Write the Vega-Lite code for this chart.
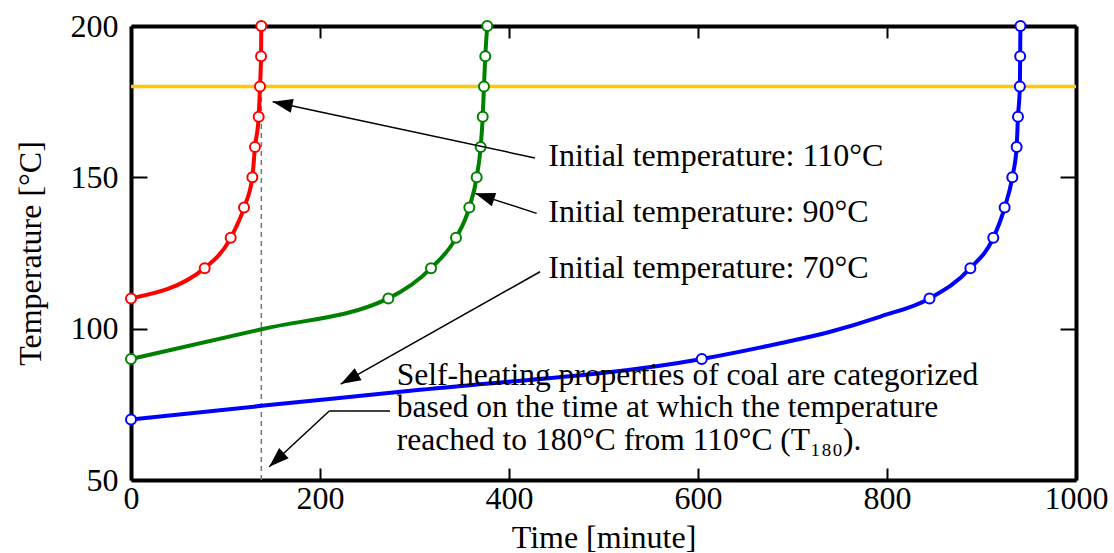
{
  "$schema": "https://vega.github.io/schema/vega-lite/v6.json",
  "width": 945,
  "height": 454,
  "autosize": {"type": "none"},
  "padding": {"left": 131, "top": 26, "right": 38, "bottom": 73},
  "background": "white",
  "config": {
    "view": {"stroke": null},
    "font": "Liberation Serif",
    "axis": {
      "labelFont": "Liberation Serif", "labelFontSize": 32, "labelColor": "black",
      "titleFont": "Liberation Serif", "titleFontSize": 32, "titleFontWeight": "normal", "titleColor": "black",
      "domain": true, "domainColor": "black", "domainWidth": 4, "grid": false, "tickColor": "black", "tickWidth": 2, "format": "d", "labelFlush": false
    }
  },
  "datasets": {
    "curves": [
      {"series": "110", "t": 0, "T": 110, "m": true},
      {"series": "110", "t": 78, "T": 120, "m": true},
      {"series": "110", "t": 105.5, "T": 130, "m": true},
      {"series": "110", "t": 119.6, "T": 140, "m": true},
      {"series": "110", "t": 128.4, "T": 150, "m": true},
      {"series": "110", "t": 131.2, "T": 160, "m": true},
      {"series": "110", "t": 135.1, "T": 170, "m": true},
      {"series": "110", "t": 136.5, "T": 180, "m": true},
      {"series": "110", "t": 137.6, "T": 190, "m": true},
      {"series": "110", "t": 137.9, "T": 200, "m": true},
      {"series": "90", "t": 0, "T": 90, "m": true},
      {"series": "90", "t": 138, "T": 99.8, "m": false},
      {"series": "90", "t": 272.3, "T": 110, "m": true},
      {"series": "90", "t": 317.5, "T": 120, "m": true},
      {"series": "90", "t": 343.9, "T": 130, "m": true},
      {"series": "90", "t": 358, "T": 140, "m": true},
      {"series": "90", "t": 365.8, "T": 150, "m": true},
      {"series": "90", "t": 370, "T": 160, "m": true},
      {"series": "90", "t": 372.2, "T": 170, "m": true},
      {"series": "90", "t": 373.5, "T": 180, "m": true},
      {"series": "90", "t": 374.9, "T": 190, "m": true},
      {"series": "90", "t": 377, "T": 200, "m": true},
      {"series": "70", "t": 0, "T": 70, "m": true},
      {"series": "70", "t": 138, "T": 74.5, "m": false},
      {"series": "70", "t": 306, "T": 79.8, "m": false},
      {"series": "70", "t": 604, "T": 90, "m": true},
      {"series": "70", "t": 687, "T": 95.2, "m": false},
      {"series": "70", "t": 740, "T": 99, "m": false},
      {"series": "70", "t": 793, "T": 104, "m": false},
      {"series": "70", "t": 845, "T": 110, "m": true},
      {"series": "70", "t": 888.2, "T": 120, "m": true},
      {"series": "70", "t": 912.5, "T": 130, "m": true},
      {"series": "70", "t": 924.5, "T": 140, "m": true},
      {"series": "70", "t": 932.6, "T": 150, "m": true},
      {"series": "70", "t": 937.2, "T": 160, "m": true},
      {"series": "70", "t": 938.6, "T": 170, "m": true},
      {"series": "70", "t": 940.6, "T": 180, "m": true},
      {"series": "70", "t": 940.9, "T": 190, "m": true},
      {"series": "70", "t": 941.2, "T": 200, "m": true}
    ],
    "shafts": [
      {"id": "a1", "t": 427.5, "T": 156.4, "t2": 149.9, "T2": 175.0},
      {"id": "a2", "t": 429.3, "T": 138.1, "t2": 364.0, "T2": 144.7},
      {"id": "a3", "t": 432.8, "T": 118.8, "t2": 221.9, "T2": 81.7},
      {"id": "a4a", "t": 274.1, "T": 72.8, "t2": 209.8, "T2": 72.8},
      {"id": "a4b", "t": 209.8, "T": 72.8, "t2": 146.3, "T2": 54.4}
    ],
    "heads": [
      {"id": "h1", "t": 149.9, "T": 175.0},
      {"id": "h2", "t": 364.0, "T": 144.7},
      {"id": "h3", "t": 221.9, "T": 81.7},
      {"id": "h4", "t": 146.3, "T": 54.4}
    ],
    "labels": [
      {"label": "Initial temperature: 110°C", "t": 441.6, "T": 153.7},
      {"label": "Initial temperature: 90°C", "t": 441.6, "T": 135.2},
      {"label": "Initial temperature: 70°C", "t": 441.6, "T": 116.7}
    ],
    "note": [
      {"label": ["Self-heating properties of coal are categorized", "based on the time at which the temperature", "reached to 180°C from 110°C (T₁₈₀)."], "t": 281.2, "T": 81.4}
    ],
    "threshold": [{"T": 180}],
    "marker": [{"t": 137.9, "T": 50, "T2": 180}]
  },
  "resolve": {"axis": {"x": "independent", "y": "independent"}},
  "layer": [
    {
      "data": {"name": "threshold"},
      "mark": {"type": "rule", "color": "#FFC800", "strokeWidth": 3.5},
      "encoding": {
        "y": {"field": "T", "type": "quantitative", "scale": {"domain": [50, 200], "nice": false},
          "axis": {"orient": "right", "labels": false, "title": null, "values": [50, 100, 150, 200], "tickSize": -16}}
      }
    },
    {
      "data": {"name": "marker"},
      "mark": {"type": "rule", "color": "#777777", "strokeWidth": 1.5, "strokeDash": [5, 4]},
      "encoding": {
        "x": {"field": "t", "type": "quantitative", "scale": {"domain": [0, 1000], "nice": false},
          "axis": {"orient": "top", "labels": false, "title": null, "values": [0, 200, 400, 600, 800, 1000], "tickSize": -12}},
        "y": {"field": "T", "type": "quantitative", "axis": null},
        "y2": {"field": "T2"}
      }
    },
    {
      "data": {"name": "curves"},
      "mark": {"type": "line", "strokeWidth": 4, "interpolate": "monotone"},
      "encoding": {
        "x": {"field": "t", "type": "quantitative", "title": "Time [minute]",
          "axis": {"orient": "bottom", "values": [0, 200, 400, 600, 800, 1000], "tickSize": -12, "labelPadding": 15, "titlePadding": 8}},
        "y": {"field": "T", "type": "quantitative", "title": "Temperature [°C]",
          "axis": {"orient": "left", "values": [50, 100, 150, 200], "tickSize": -16, "labelPadding": 29, "titlePadding": 23}},
        "color": {"field": "series", "type": "nominal", "scale": {"domain": ["110", "90", "70"], "range": ["#FF0000", "#008000", "#0000FF"]}, "legend": null},
        "detail": {"field": "series"}
      }
    },
    {
      "data": {"name": "curves"},
      "transform": [{"filter": "datum.m"}],
      "mark": {"type": "point", "shape": "circle", "filled": true, "fill": "white", "size": 100, "strokeWidth": 2, "opacity": 1},
      "encoding": {
        "x": {"field": "t", "type": "quantitative", "axis": null},
        "y": {"field": "T", "type": "quantitative", "axis": null},
        "stroke": {"field": "series", "type": "nominal", "scale": {"domain": ["110", "90", "70"], "range": ["#FF0000", "#008000", "#0000FF"]}, "legend": null}
      }
    },
    {
      "data": {"name": "shafts"},
      "mark": {"type": "rule", "color": "black", "strokeWidth": 1.5},
      "encoding": {
        "x": {"field": "t", "type": "quantitative", "axis": null},
        "y": {"field": "T", "type": "quantitative", "axis": null},
        "x2": {"field": "t2"},
        "y2": {"field": "T2"}
      }
    },
    {
      "data": {"name": "heads"},
      "transform": [{"filter": "datum.id == 'h1'"}],
      "mark": {"type": "point", "shape": "M0,0L-0.7,2L0.7,2Z", "filled": true, "color": "black", "opacity": 1, "size": 400, "angle": -77.9},
      "encoding": {
        "x": {"field": "t", "type": "quantitative", "axis": null},
        "y": {"field": "T", "type": "quantitative", "axis": null}
      }
    },
    {
      "data": {"name": "heads"},
      "transform": [{"filter": "datum.id == 'h2'"}],
      "mark": {"type": "point", "shape": "M0,0L-0.7,2L0.7,2Z", "filled": true, "color": "black", "opacity": 1, "size": 400, "angle": -72},
      "encoding": {
        "x": {"field": "t", "type": "quantitative", "axis": null},
        "y": {"field": "T", "type": "quantitative", "axis": null}
      }
    },
    {
      "data": {"name": "heads"},
      "transform": [{"filter": "datum.id == 'h3'"}],
      "mark": {"type": "point", "shape": "M0,0L-0.7,2L0.7,2Z", "filled": true, "color": "black", "opacity": 1, "size": 400, "angle": -119.4},
      "encoding": {
        "x": {"field": "t", "type": "quantitative", "axis": null},
        "y": {"field": "T", "type": "quantitative", "axis": null}
      }
    },
    {
      "data": {"name": "heads"},
      "transform": [{"filter": "datum.id == 'h4'"}],
      "mark": {"type": "point", "shape": "M0,0L-0.7,2L0.7,2Z", "filled": true, "color": "black", "opacity": 1, "size": 400, "angle": -132.9},
      "encoding": {
        "x": {"field": "t", "type": "quantitative", "axis": null},
        "y": {"field": "T", "type": "quantitative", "axis": null}
      }
    },
    {
      "data": {"name": "labels"},
      "mark": {"type": "text", "align": "left", "baseline": "alphabetic", "font": "Liberation Serif", "fontSize": 32, "color": "black"},
      "encoding": {
        "x": {"field": "t", "type": "quantitative", "axis": null},
        "y": {"field": "T", "type": "quantitative", "axis": null},
        "text": {"field": "label"}
      }
    },
    {
      "data": {"name": "note"},
      "mark": {"type": "text", "align": "left", "baseline": "alphabetic", "font": "Liberation Serif", "fontSize": 31.5, "lineHeight": 32.5, "color": "black"},
      "encoding": {
        "x": {"field": "t", "type": "quantitative", "axis": null},
        "y": {"field": "T", "type": "quantitative", "axis": null},
        "text": {"field": "label"}
      }
    }
  ]
}
